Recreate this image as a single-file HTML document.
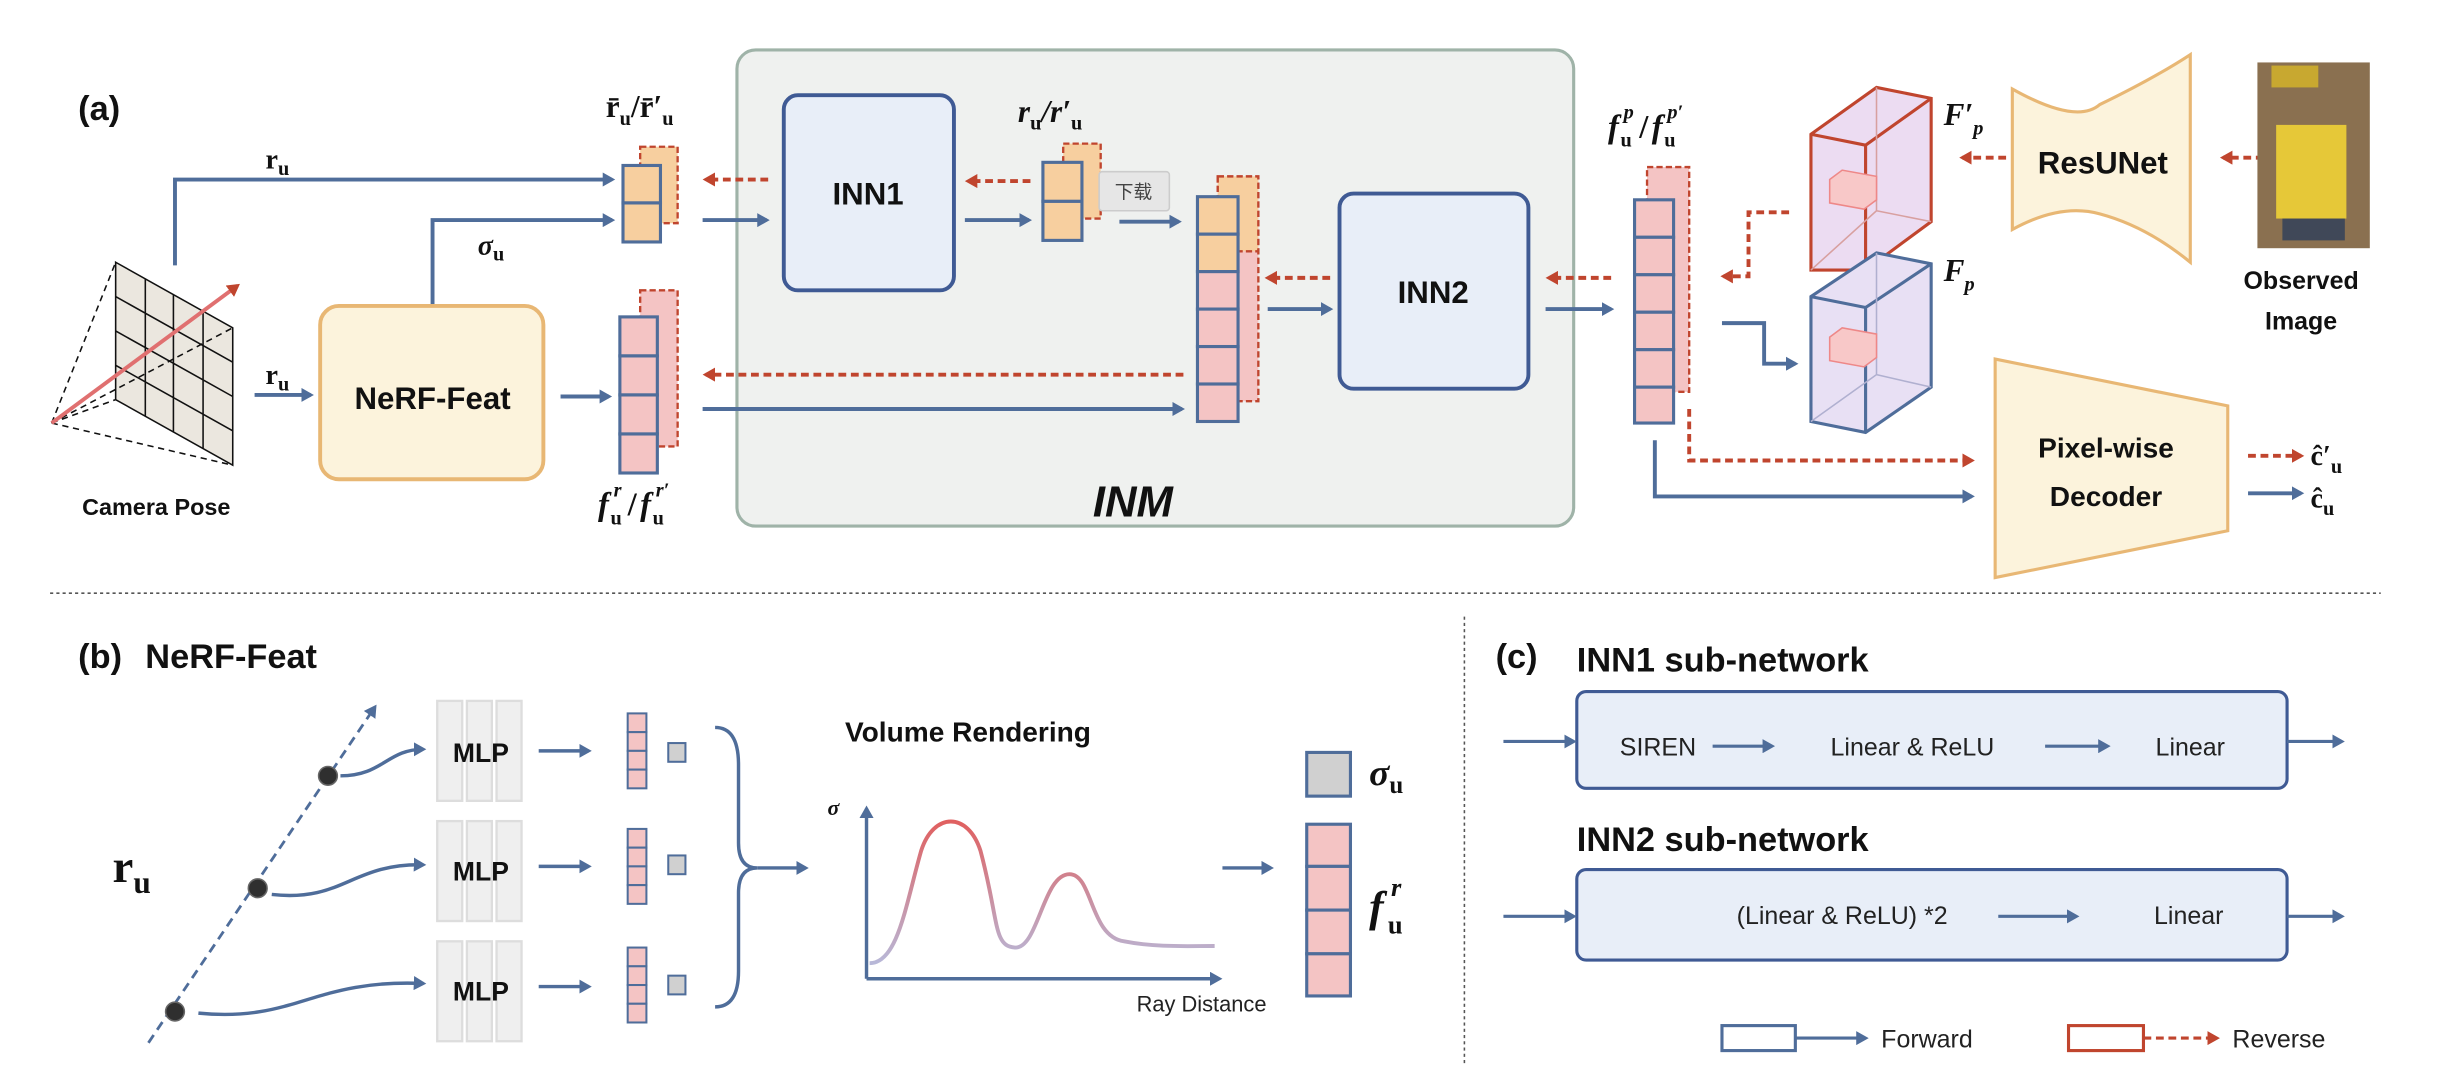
<!DOCTYPE html>
<html><head><meta charset="utf-8"><style>
html,body{margin:0;padding:0;background:#fff;}
svg{display:block;}
.b{font-family:"Liberation Sans",sans-serif;font-weight:bold;fill:#111;}
.s{font-family:"Liberation Sans",sans-serif;fill:#222;}
.m{font-family:"Liberation Serif",serif;font-weight:bold;fill:#111;}
.mi{font-family:"Liberation Serif",serif;font-style:italic;font-weight:bold;fill:#111;}
.up{font-family:"Liberation Serif",serif;font-weight:bold;fill:#111;}
</style></head><body>
<svg width="2448" height="1074" viewBox="0 0 1568 688" xmlns="http://www.w3.org/2000/svg">
<defs>
<marker id="ab" markerWidth="9" markerHeight="9" refX="6" refY="4.5" orient="auto" markerUnits="userSpaceOnUse"><path d="M0,0 L8,4.5 L0,9 Z" fill="#4f6d9a"/></marker>
<marker id="ar" markerWidth="9" markerHeight="9" refX="6" refY="4.5" orient="auto" markerUnits="userSpaceOnUse"><path d="M0,0 L8,4.5 L0,9 Z" fill="#c0452e"/></marker>
</defs>
<rect x="472" y="32" width="536" height="305" rx="12" fill="#eff1ef" stroke="#9fb3a8" stroke-width="2"/>
<text class="b" x="50" y="77" font-size="22">(a)</text>
<text x="700" y="331" font-size="28" font-family="Liberation Sans,sans-serif" font-weight="bold" font-style="italic" fill="#111">INM</text>

<g stroke="#111" stroke-width="1" fill="none">
<path d="M74,168 L149,210 L149,298 L74,256 Z" fill="#d8d0c0" fill-opacity="0.5"/>
<path d="M74,190 L149,232 M74,212 L149,254 M74,234 L149,276 M93,178.5 L93,266.5 M111,189 L111,277 M130,199.5 L130,287.5"/>
<path d="M33,271 L74,168 M33,271 L149,298 M33,271 L149,210 M33,271 L74,256" stroke-dasharray="4,3"/>
</g>
<line x1="33" y1="271" x2="152" y2="183" stroke="#e07070" stroke-width="2.5" marker-end="url(#ar)"/>
<text class="b" x="100" y="330" font-size="15" text-anchor="middle">Camera Pose</text>

<g stroke="#4f6d9a" stroke-width="2.5" fill="none">
<path d="M112,170 L112,115 L392,115" marker-end="url(#ab)"/>
<path d="M277,196 L277,141 L392,141" marker-end="url(#ab)"/>
<path d="M163,253 L199,253" marker-end="url(#ab)"/>
<path d="M359,254 L390,254" marker-end="url(#ab)"/>
<path d="M450,141 L491,141" marker-end="url(#ab)"/>
<path d="M618,141 L659,141" marker-end="url(#ab)"/>
<path d="M717,142 L755,142" marker-end="url(#ab)"/>
<path d="M450,262 L757,262" marker-end="url(#ab)"/>
<path d="M812,198 L852,198" marker-end="url(#ab)"/>
<path d="M990,198 L1032,198" marker-end="url(#ab)"/>
<path d="M1103,207 L1130,207 L1130,233 L1150,233" marker-end="url(#ab)"/>
<path d="M1060,282 L1060,318 L1263,318" marker-end="url(#ab)"/>
<path d="M1440,316 L1474,316" marker-end="url(#ab)"/>
</g>
<g stroke="#c0452e" stroke-width="2.5" fill="none" stroke-dasharray="5,3">
<path d="M492,115 L452,115" marker-end="url(#ar)"/>
<path d="M660,116 L620,116" marker-end="url(#ar)"/>
<path d="M758,240 L452,240" marker-end="url(#ar)"/>
<path d="M852,178 L812,178" marker-end="url(#ar)"/>
<path d="M1032,178 L992,178" marker-end="url(#ar)"/>
<path d="M1146,136 L1120,136 L1120,177 L1104,177" marker-end="url(#ar)"/>
<path d="M1082,262 L1082,295 L1263,295" marker-end="url(#ar)"/>
<path d="M1285,101 L1257,101" marker-end="url(#ar)"/>
<path d="M1450,101 L1424,101" marker-end="url(#ar)"/>
<path d="M1440,292 L1474,292" marker-end="url(#ar)"/>
</g>

<text class="m" x="170" y="108" font-size="18">r<tspan font-size="13" dy="4">u</tspan></text>
<text class="m" x="170" y="246" font-size="18">r<tspan font-size="13" dy="4">u</tspan></text>
<text class="mi" x="306" y="163" font-size="18">σ<tspan font-size="13" dy="4" font-style="normal">u</tspan></text>

<rect x="205" y="196" width="143" height="111" rx="12" fill="#fcf3dc" stroke="#e8b774" stroke-width="2.5"/>
<text class="b" x="277" y="262" font-size="20" text-anchor="middle">NeRF-Feat</text>

<rect x="502" y="61" width="109" height="125" rx="9" fill="#e8eef8" stroke="#3f5a94" stroke-width="2.5"/>
<text class="b" x="556" y="131" font-size="20" text-anchor="middle">INN1</text>
<rect x="858" y="124" width="121" height="125" rx="9" fill="#e8eef8" stroke="#3f5a94" stroke-width="2.5"/>
<text class="b" x="918" y="194" font-size="20" text-anchor="middle">INN2</text>

<g stroke-width="1.5">
<rect x="410" y="94" width="24" height="49" fill="#f7cf9f" stroke="#c0452e" stroke-dasharray="4,2"/>
<rect x="399" y="106" width="24" height="24" fill="#f7cf9f" stroke="#4f6d9a" stroke-width="2"/>
<rect x="399" y="130" width="24" height="25" fill="#f7cf9f" stroke="#4f6d9a" stroke-width="2"/>

<rect x="410" y="186" width="24" height="100" fill="#f4c4c4" stroke="#c0452e" stroke-dasharray="4,2"/>
<rect x="397" y="203" width="24" height="25" fill="#f4c4c4" stroke="#4f6d9a" stroke-width="2"/>
<rect x="397" y="228" width="24" height="25" fill="#f4c4c4" stroke="#4f6d9a" stroke-width="2"/>
<rect x="397" y="253" width="24" height="25" fill="#f4c4c4" stroke="#4f6d9a" stroke-width="2"/>
<rect x="397" y="278" width="24" height="25" fill="#f4c4c4" stroke="#4f6d9a" stroke-width="2"/>

<rect x="681" y="92" width="24" height="48" fill="#f7cf9f" stroke="#c0452e" stroke-dasharray="4,2"/>
<rect x="668" y="104" width="25" height="25" fill="#f7cf9f" stroke="#4f6d9a" stroke-width="2"/>
<rect x="668" y="129" width="25" height="25" fill="#f7cf9f" stroke="#4f6d9a" stroke-width="2"/>

<rect x="780" y="113" width="26" height="144" fill="#f4c4c4" stroke="#c0452e" stroke-dasharray="4,2"/>
<rect x="780" y="113" width="26" height="48" fill="#f7cf9f" stroke="#c0452e" stroke-dasharray="4,2"/>
<rect x="767" y="126" width="26" height="24" fill="#f7cf9f" stroke="#4f6d9a" stroke-width="2"/>
<rect x="767" y="150" width="26" height="24" fill="#f7cf9f" stroke="#4f6d9a" stroke-width="2"/>
<rect x="767" y="174" width="26" height="24" fill="#f4c4c4" stroke="#4f6d9a" stroke-width="2"/>
<rect x="767" y="198" width="26" height="24" fill="#f4c4c4" stroke="#4f6d9a" stroke-width="2"/>
<rect x="767" y="222" width="26" height="24" fill="#f4c4c4" stroke="#4f6d9a" stroke-width="2"/>
<rect x="767" y="246" width="26" height="24" fill="#f4c4c4" stroke="#4f6d9a" stroke-width="2"/>

<rect x="1055" y="107" width="27" height="144" fill="#f4c4c4" stroke="#c0452e" stroke-dasharray="4,2"/>
<rect x="1047" y="128" width="25" height="24" fill="#f4c4c4" stroke="#4f6d9a" stroke-width="2"/>
<rect x="1047" y="152" width="25" height="24" fill="#f4c4c4" stroke="#4f6d9a" stroke-width="2"/>
<rect x="1047" y="176" width="25" height="24" fill="#f4c4c4" stroke="#4f6d9a" stroke-width="2"/>
<rect x="1047" y="200" width="25" height="24" fill="#f4c4c4" stroke="#4f6d9a" stroke-width="2"/>
<rect x="1047" y="224" width="25" height="24" fill="#f4c4c4" stroke="#4f6d9a" stroke-width="2"/>
<rect x="1047" y="248" width="25" height="23" fill="#f4c4c4" stroke="#4f6d9a" stroke-width="2"/>
</g>
<rect x="704" y="110" width="45" height="25" rx="2" fill="#e6e6e6" stroke="#ccc"/>
<text x="726" y="127" font-size="12" text-anchor="middle" font-family="Liberation Sans,'Noto Sans CJK SC',sans-serif" fill="#444">下载</text>

<text class="m" x="388" y="75" font-size="20">r̄<tspan font-size="13" dy="5">u</tspan><tspan dy="-5">/r̄′</tspan><tspan font-size="13" dy="5">u</tspan></text>
<text class="mi" x="652" y="78" font-size="20">r<tspan font-size="13" dy="5" font-style="normal">u</tspan><tspan dy="-5">/r′</tspan><tspan font-size="13" dy="5" font-style="normal">u</tspan></text>

<!-- f^r_u / f^r'_u -->
<text class="mi" x="383" y="330" font-size="21">f</text>
<text class="mi" x="393" y="318" font-size="13">r</text>
<text class="up" x="391" y="336" font-size="13">u</text>
<text class="m" x="402" y="330" font-size="21">/</text>
<text class="mi" x="410" y="330" font-size="21">f</text>
<text class="mi" x="420" y="318" font-size="13">r′</text>
<text class="up" x="418" y="336" font-size="13">u</text>

<!-- f^p_u / f^p'_u -->
<text class="mi" x="1030" y="88" font-size="21">f</text>
<text class="mi" x="1040" y="76" font-size="13">p</text>
<text class="up" x="1038" y="94" font-size="13">u</text>
<text class="m" x="1050" y="88" font-size="21">/</text>
<text class="mi" x="1058" y="88" font-size="21">f</text>
<text class="mi" x="1068" y="76" font-size="13">p′</text>
<text class="up" x="1066" y="94" font-size="13">u</text>

<g stroke-width="2">
<path d="M1160,86 L1202,56 L1237,63 L1237,142 L1195,173 L1160,173 Z" fill="#ecdcf2" stroke="#c0452e"/>
<path d="M1160,86 L1195,93 L1237,63 M1195,93 L1195,173" fill="none" stroke="#c0452e"/>
<path d="M1202,56 L1202,135 L1160,173 M1202,135 L1237,142" fill="none" stroke="#d8a0a0" stroke-width="1"/>
<path d="M1172,115 L1180,109 L1202,113 L1202,128 L1194,134 L1172,130 Z" fill="#f8c8c8" stroke="#e88" stroke-width="1"/>
<path d="M1160,190 L1202,162 L1237,169 L1237,248 L1195,277 L1160,270 Z" fill="#e8e0f4" stroke="#4f6d9a"/>
<path d="M1160,190 L1195,197 L1237,169 M1195,197 L1195,277" fill="none" stroke="#4f6d9a"/>
<path d="M1202,162 L1202,240 L1160,270 M1202,240 L1237,248" fill="none" stroke="#b0b0d0" stroke-width="1"/>
<path d="M1172,216 L1180,210 L1202,214 L1202,229 L1194,235 L1172,231 Z" fill="#f8c8c8" stroke="#e88" stroke-width="1"/>
</g>
<text class="mi" x="1245" y="80" font-size="20">F′<tspan font-size="13" dy="6">p</tspan></text>
<text class="mi" x="1245" y="180" font-size="20">F<tspan font-size="13" dy="6">p</tspan></text>

<path d="M1289,57 Q1330,80 1345,67 Q1380,50 1403,35 L1403,168 Q1375,145 1345,137 Q1320,130 1289,147 Z" fill="#fcf3dc" stroke="#e8b774" stroke-width="2"/>
<text class="b" x="1347" y="111" font-size="20" text-anchor="middle">ResUNet</text>
<rect x="1446" y="40" width="72" height="119" fill="#8a7050"/>
<rect x="1455" y="42" width="30" height="14" fill="#c8a830"/>
<rect x="1458" y="80" width="45" height="60" fill="#e6c838"/>
<rect x="1462" y="140" width="40" height="14" fill="#404858"/>
<text class="b" x="1474" y="185" font-size="16" text-anchor="middle">Observed</text>
<text class="b" x="1474" y="211" font-size="16" text-anchor="middle">Image</text>

<path d="M1278,230 L1427,260 L1427,340 L1278,370 Z" fill="#fcf3dc" stroke="#e8b774" stroke-width="2"/>
<text class="b" x="1349" y="293" font-size="18" text-anchor="middle">Pixel-wise</text>
<text class="b" x="1349" y="324" font-size="18" text-anchor="middle">Decoder</text>
<text class="m" x="1480" y="298" font-size="18">ĉ′<tspan font-size="13" dy="5">u</tspan></text>
<text class="m" x="1480" y="325" font-size="18">ĉ<tspan font-size="13" dy="5">u</tspan></text>

<line x1="32" y1="380" x2="1525" y2="380" stroke="#555" stroke-width="1" stroke-dasharray="2,2"/>
<line x1="938" y1="395" x2="938" y2="682" stroke="#555" stroke-width="1" stroke-dasharray="2,2"/>

<text class="b" x="50" y="428" font-size="22">(b)</text>
<text class="b" x="93" y="428" font-size="22">NeRF-Feat</text>
<text class="m" x="72" y="565" font-size="30">r<tspan font-size="20" dy="7">u</tspan></text>
<line x1="95" y1="668" x2="240" y2="453" stroke="#4f6d9a" stroke-width="1.8" stroke-dasharray="6,4" marker-end="url(#ab)"/>
<g stroke="#4f6d9a" stroke-width="2.2" fill="none">
<path d="M218,497 C245,497 248,480 271,480" marker-end="url(#ab)"/>
<path d="M174,573 C220,578 225,553 271,554" marker-end="url(#ab)"/>
<path d="M127,649 C190,655 200,627 271,630" marker-end="url(#ab)"/>
<path d="M345,481 L377,481" marker-end="url(#ab)"/>
<path d="M345,555 L377,555" marker-end="url(#ab)"/>
<path d="M345,632 L377,632" marker-end="url(#ab)"/>
<path d="M458,466 Q473,466 473,490 L473,540 Q473,556 485,556 Q473,556 473,572 L473,622 Q473,645 458,645" />
<path d="M485,556 L516,556" marker-end="url(#ab)"/>
<path d="M783,556 L814,556" marker-end="url(#ab)"/>
<path d="M555,627 L555,518" marker-end="url(#ab)"/>
<path d="M555,627 L781,627" marker-end="url(#ab)"/>
</g>
<g fill="#2f2f2f" stroke="#666"><circle cx="210" cy="497" r="6"/><circle cx="165" cy="569" r="6"/><circle cx="112" cy="648" r="6"/></g>
<g fill="#efefef" stroke="#ddd" stroke-width="1.5">
<rect x="280" y="449" width="16" height="64"/><rect x="299" y="449" width="16" height="64"/><rect x="318" y="449" width="16" height="64"/>
<rect x="280" y="526" width="16" height="64"/><rect x="299" y="526" width="16" height="64"/><rect x="318" y="526" width="16" height="64"/>
<rect x="280" y="603" width="16" height="64"/><rect x="299" y="603" width="16" height="64"/><rect x="318" y="603" width="16" height="64"/>
</g>
<text class="b" x="308" y="488" font-size="17" text-anchor="middle">MLP</text>
<text class="b" x="308" y="564" font-size="17" text-anchor="middle">MLP</text>
<text class="b" x="308" y="641" font-size="17" text-anchor="middle">MLP</text>
<g fill="#f4c4c4" stroke="#4f6d9a" stroke-width="1.3">
<rect x="402" y="457" width="12" height="12"/><rect x="402" y="469" width="12" height="12"/><rect x="402" y="481" width="12" height="12"/><rect x="402" y="493" width="12" height="12"/>
<rect x="402" y="531" width="12" height="12"/><rect x="402" y="543" width="12" height="12"/><rect x="402" y="555" width="12" height="12"/><rect x="402" y="567" width="12" height="12"/>
<rect x="402" y="607" width="12" height="12"/><rect x="402" y="619" width="12" height="12"/><rect x="402" y="631" width="12" height="12"/><rect x="402" y="643" width="12" height="12"/>
<rect x="428" y="476" width="11" height="12" fill="#d0d0d0"/><rect x="428" y="548" width="11" height="12" fill="#d0d0d0"/><rect x="428" y="625" width="11" height="12" fill="#d0d0d0"/>
</g>
<text class="b" x="620" y="475" font-size="18" text-anchor="middle">Volume Rendering</text>
<text class="mi" x="530" y="522" font-size="14" font-weight="normal">σ</text>
<defs><linearGradient id="cg" x1="0" y1="0" x2="0" y2="1"><stop offset="0" stop-color="#e06060"/><stop offset="1" stop-color="#b8b8d8"/></linearGradient></defs>
<path d="M557,617 C575,617 580,580 590,545 C598,520 620,520 628,545 C640,590 636,606 650,607 C665,608 668,560 685,560 C700,560 698,600 720,603 C740,607 760,606 778,606" fill="none" stroke="url(#cg)" stroke-width="2.5"/>
<text class="s" x="728" y="648" font-size="14">Ray Distance</text>
<g stroke="#4f6d9a" stroke-width="2">
<rect x="837" y="482" width="28" height="28" fill="#d0d0d0"/>
<rect x="837" y="528" width="28" height="27" fill="#f4c4c4"/><rect x="837" y="555" width="28" height="28" fill="#f4c4c4"/><rect x="837" y="583" width="28" height="28" fill="#f4c4c4"/><rect x="837" y="611" width="28" height="27" fill="#f4c4c4"/>
</g>
<text class="mi" x="877" y="503" font-size="24">σ<tspan font-size="16" dy="5" font-style="normal">u</tspan></text>
<text class="mi" x="877" y="590" font-size="28">f</text>
<text class="mi" x="891" y="574" font-size="17">r</text>
<text class="up" x="889" y="598" font-size="17">u</text>

<text class="b" x="958" y="428" font-size="22">(c)</text>
<text class="b" x="1010" y="430" font-size="22">INN1 sub-network</text>
<text class="b" x="1010" y="545" font-size="22">INN2 sub-network</text>
<rect x="1010" y="443" width="455" height="62" rx="6" fill="#e8eef8" stroke="#3f5a94" stroke-width="2"/>
<rect x="1010" y="557" width="455" height="58" rx="6" fill="#e8eef8" stroke="#3f5a94" stroke-width="2"/>
<g stroke="#4f6d9a" stroke-width="2" fill="none">
<path d="M963,475 L1008,475" marker-end="url(#ab)"/>
<path d="M1465,475 L1500,475" marker-end="url(#ab)"/>
<path d="M1097,478 L1135,478" marker-end="url(#ab)"/>
<path d="M1310,478 L1350,478" marker-end="url(#ab)"/>
<path d="M963,587 L1008,587" marker-end="url(#ab)"/>
<path d="M1465,587 L1500,587" marker-end="url(#ab)"/>
<path d="M1280,587 L1330,587" marker-end="url(#ab)"/>
<rect x="1103" y="657" width="47" height="16"/>
<path d="M1150,665 L1195,665" marker-end="url(#ab)"/>
</g>
<text class="s" x="1062" y="484" font-size="16" text-anchor="middle">SIREN</text>
<text class="s" x="1225" y="484" font-size="16" text-anchor="middle">Linear &amp; ReLU</text>
<text class="s" x="1403" y="484" font-size="16" text-anchor="middle">Linear</text>
<text class="s" x="1180" y="592" font-size="16" text-anchor="middle">(Linear &amp; ReLU) *2</text>
<text class="s" x="1402" y="592" font-size="16" text-anchor="middle">Linear</text>
<rect x="1325" y="657" width="48" height="16" fill="none" stroke="#c0452e" stroke-width="2"/>
<path d="M1373,665 L1420,665" stroke="#c0452e" stroke-width="2" stroke-dasharray="5,3" marker-end="url(#ar)"/>
<text class="s" x="1205" y="671" font-size="16">Forward</text>
<text class="s" x="1430" y="671" font-size="16">Reverse</text>
</svg>
</body></html>
